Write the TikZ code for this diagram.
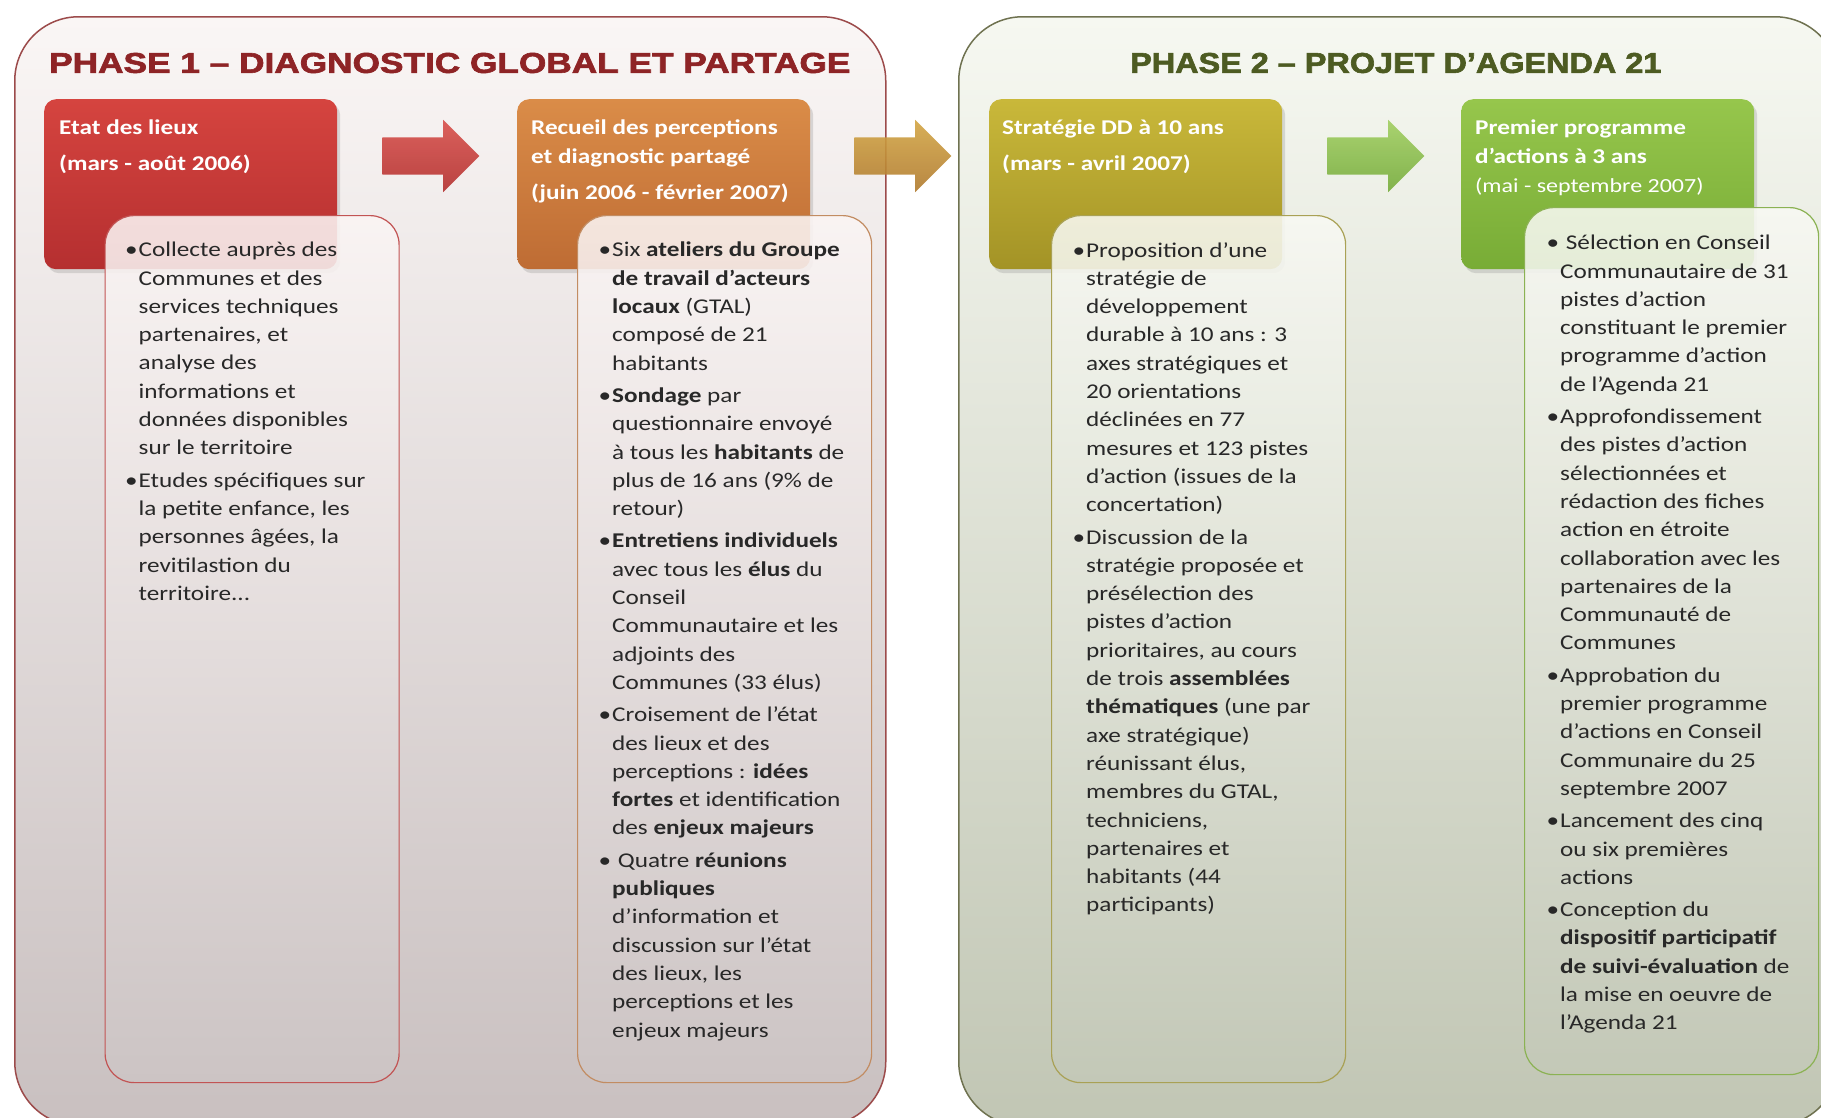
\documentclass[tikz,border=0pt]{standalone}
\usepackage{fontspec}
\setmainfont[FakeStretch=1.2]{Carlito}
\newfontfamily\titlefont[BoldFeatures={FakeBold=2}]{Liberation Sans}
\usetikzlibrary{positioning,shapes.arrows,shadows}

\definecolor{phaseoneline}{HTML}{9C4B4B}
\definecolor{phaseonetop}{HTML}{FAF6F5}
\definecolor{phaseonebot}{HTML}{C9C0C0}
\definecolor{phasetwoline}{HTML}{6F7250}
\definecolor{phasetwotop}{HTML}{F6F8F1}
\definecolor{phasetwobot}{HTML}{C1C6B4}
\definecolor{titleone}{HTML}{8E2426}
\definecolor{titletwo}{HTML}{4D5B22}
\definecolor{hdrAtop}{HTML}{D5443F}
\definecolor{hdrAbot}{HTML}{B52F30}
\definecolor{hdrBtop}{HTML}{DA8C48}
\definecolor{hdrBbot}{HTML}{BE6C34}
\definecolor{hdrCtop}{HTML}{C9B83A}
\definecolor{hdrCbot}{HTML}{A39326}
\definecolor{hdrDtop}{HTML}{96C64C}
\definecolor{hdrDbot}{HTML}{78AC36}
\definecolor{arrAtop}{HTML}{D9514C}
\definecolor{arrAbot}{HTML}{B3302F}
\definecolor{arrBtop}{HTML}{D3A645}
\definecolor{arrBbot}{HTML}{B07A2E}
\definecolor{arrCtop}{HTML}{A2CF62}
\definecolor{arrCbot}{HTML}{76AC3C}
\definecolor{detAline}{HTML}{C25454}
\definecolor{detBline}{HTML}{C28C62}
\definecolor{detCline}{HTML}{A9A155}
\definecolor{detDline}{HTML}{8BB253}
\definecolor{detonetop}{HTML}{FBF5F4}
\definecolor{detonebot}{HTML}{CDC5C5}
\definecolor{dettwotop}{HTML}{F8F9F3}
\definecolor{dettwobot}{HTML}{C4C9B8}
\definecolor{inktext}{HTML}{282828}

\newcommand\bul{\llap{\textbullet\hspace{1pt}}}

\tikzset{
  phase/.style={draw, line width=1.5pt, rounded corners=64pt, anchor=north west, inner sep=0pt,
    minimum height=1109pt},
  ttl/.style={font=\titlefont\bfseries, inner sep=0pt, anchor=west},
  header/.style={rounded corners=12pt, anchor=north west, inner sep=0pt,
    minimum width=293pt, minimum height=170pt,
    drop shadow={shadow xshift=3pt, shadow yshift=-4pt, opacity=0.25}},
  hdrtext/.style={text=white, font=\bfseries\fontsize{21}{29}\selectfont, align=left, inner sep=0pt},
  steparrow/.style={single arrow, single arrow head extend=17.5pt, inner xsep=0pt, inner ysep=18.5pt,
    minimum height=97pt, fill opacity=0.9},
  detail/.style={draw, line width=1.2pt, rounded corners=29pt, anchor=north west, inner sep=0pt,
    minimum width=294pt, minimum height=867pt, fill opacity=0.88},
  dettext/.style={text=inktext, font=\fontsize{21}{28.3}\selectfont, align=left, inner sep=0pt}
}

\begin{document}
\begin{tikzpicture}[x=1pt,y=-1pt]
\useasboundingbox (0,0) rectangle (1821,1117);

% the two phases
\node[phase, draw=phaseoneline, top color=phaseonetop, bottom color=phaseonebot, minimum width=871pt] (phaseA) at (14,16) {};
\node[phase, draw=phasetwoline, top color=phasetwotop, bottom color=phasetwobot, minimum width=880pt] (phaseB) at (958,16) {};

\node[ttl, text=titleone] (titleA) at (49,63) {\resizebox{801pt}{20pt}{PHASE 1 – DIAGNOSTIC GLOBAL ET PARTAGE}};
\node[ttl, text=titletwo] (titleB) at (1130,63) {\resizebox{531pt}{20pt}{PHASE 2 – PROJET D’AGENDA 21}};

% step headers
\node[header, top color=hdrAtop, bottom color=hdrAbot] (hdrA) at (44,99) {};
\node[header, top color=hdrBtop, bottom color=hdrBbot] (hdrB) at (517,99) {};
\node[header, top color=hdrCtop, bottom color=hdrCbot] (hdrC) at (989,99) {};
\node[header, top color=hdrDtop, bottom color=hdrDbot] (hdrD) at (1461,99) {};

\node[hdrtext, below right=21pt and 15pt of hdrA.north west] (labA) {Etat des lieux\\[7pt](mars - août 2006)};
\node[hdrtext, below right=21pt and 14pt of hdrB.north west] (labB) {Recueil des perceptions\\et diagnostic partagé\\[7pt](juin 2006 - février 2007)};
\node[hdrtext, below right=21pt and 13pt of hdrC.north west] (labC) {Stratégie DD à 10 ans\\[7pt](mars - avril 2007)};
\node[hdrtext, below right=21pt and 14pt of hdrD.north west] (labD) {Premier programme\\d'actions à 3 ans\\{\mdseries\fontsize{20}{28}\selectfont(mai - septembre 2007)}};

% arrows between steps
\node[steparrow, top color=arrAtop, bottom color=arrAbot] (arrA) at (421.5,156) {};
\node[steparrow, top color=arrBtop, bottom color=arrBbot] (arrB) at (893.5,156) {};
\node[steparrow, top color=arrCtop, bottom color=arrCbot] (arrC) at (1366.5,156) {};

% detail boxes
\node[detail, draw=detAline, top color=detonetop, bottom color=detonebot] (detA) at (104.5,215) {};
\node[detail, draw=detBline, top color=detonetop, bottom color=detonebot] (detB) at (577,215) {};
\node[detail, draw=detCline, top color=dettwotop, bottom color=dettwobot] (detC) at (1051,215) {};
\node[detail, draw=detDline, top color=dettwotop, bottom color=dettwobot] (detD) at (1524,207) {};

\node[dettext, below right=27pt and 34pt of detA.north west] (txtA) {%
\bul Collecte auprès des\\Communes et des\\services techniques\\partenaires, et\\analyse des\\informations et\\données disponibles\\sur le territoire\\[4pt]
\bul Etudes spécifiques sur\\la petite enfance, les\\personnes âgées, la\\revitilastion du\\territoire...};

\node[dettext, below right=27pt and 35pt of detB.north west] (txtB) {%
\bul Six \textbf{ateliers du Groupe}\\\textbf{de travail d'acteurs}\\\textbf{locaux} (GTAL)\\composé de 21\\habitants\\[4pt]
\bul\textbf{Sondage} par\\questionnaire envoyé\\à tous les \textbf{habitants} de\\plus de 16 ans (9\% de\\retour)\\[4pt]
\bul\textbf{Entretiens individuels}\\avec tous les \textbf{élus} du\\Conseil\\Communautaire et les\\adjoints des\\Communes (33 élus)\\[4pt]
\bul Croisement de l'état\\des lieux et des\\perceptions : \textbf{idées}\\\textbf{fortes} et identification\\des \textbf{enjeux majeurs}\\[4pt]
\bul\ Quatre \textbf{réunions}\\\textbf{publiques}\\d'information et\\discussion sur l'état\\des lieux, les\\perceptions et les\\enjeux majeurs};

\node[dettext, below right=27pt and 35pt of detC.north west] (txtC) {%
\bul Proposition d'une\\stratégie de\\développement\\durable à 10 ans : 3\\axes stratégiques et\\20 orientations\\déclinées en 77\\mesures et 123 pistes\\d'action (issues de la\\concertation)\\[4pt]
\bul Discussion de la\\stratégie proposée et\\présélection des\\pistes d'action\\prioritaires, au cours\\de trois \textbf{assemblées}\\\textbf{thématiques} (une par\\axe stratégique)\\réunissant élus,\\membres du GTAL,\\techniciens,\\partenaires et\\habitants (44\\participants)};

\node[dettext, below right=28pt and 36pt of detD.north west] (txtD) {%
\bul\ Sélection en Conseil\\Communautaire de 31\\pistes d'action\\constituant le premier\\programme d'action\\de l'Agenda 21\\[4pt]
\bul Approfondissement\\des pistes d'action\\sélectionnées et\\rédaction des fiches\\action en étroite\\collaboration avec les\\partenaires de la\\Communauté de\\Communes\\[4pt]
\bul Approbation du\\premier programme\\d'actions en Conseil\\Communaire du 25\\septembre 2007\\[4pt]
\bul Lancement des cinq\\ou six premières\\actions\\[4pt]
\bul Conception du\\\textbf{dispositif participatif}\\\textbf{de suivi-évaluation} de\\la mise en oeuvre de\\l'Agenda 21};
\end{tikzpicture}
\end{document}
